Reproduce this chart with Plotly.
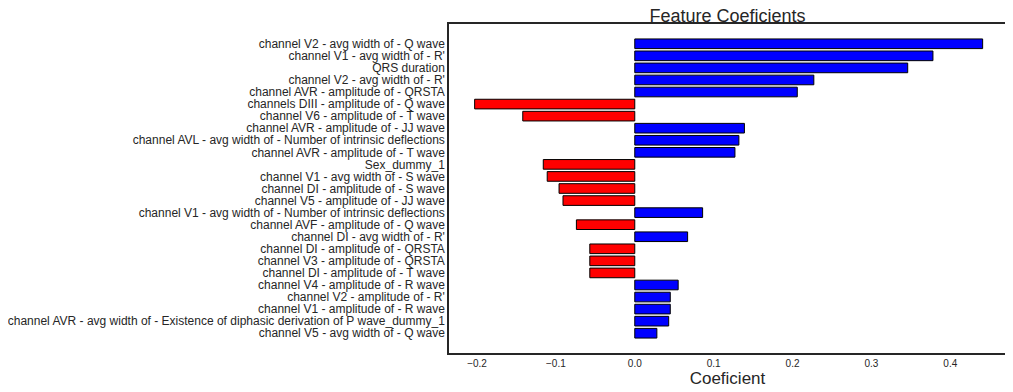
import plotly.graph_objects as go

features = [
    "channel V2 - avg width of - Q wave",
    "channel V1 - avg width of - R'",
    "QRS duration",
    "channel V2 - avg width of - R'",
    "channel AVR - amplitude of - QRSTA",
    "channels DIII - amplitude of - Q wave",
    "channel V6 - amplitude of - T wave",
    "channel AVR - amplitude of - JJ wave",
    "channel AVL - avg width of - Number of intrinsic deflections",
    "channel AVR - amplitude of - T wave",
    "Sex_dummy_1",
    "channel V1 - avg width of - S wave",
    "channel DI - amplitude of - S wave",
    "channel V5 - amplitude of - JJ wave",
    "channel V1 - avg width of - Number of intrinsic deflections",
    "channel AVF - amplitude of - Q wave",
    "channel DI - avg width of - R'",
    "channel DI - amplitude of - QRSTA",
    "channel V3 - amplitude of - QRSTA",
    "channel DI - amplitude of - T wave",
    "channel V4 - amplitude of - R wave",
    "channel V2 - amplitude of - R'",
    "channel V1 - amplitude of - R wave",
    "channel AVR - avg width of - Existence of diphasic derivation of P wave_dummy_1",
    "channel V5 - avg width of - Q wave",
]
coefs = [
    0.441, 0.378, 0.346, 0.227, 0.206, -0.203, -0.142, 0.139, 0.132, 0.127,
    -0.116, -0.111, -0.096, -0.091, 0.086, -0.074, 0.067, -0.057, -0.057, -0.057,
    0.055, 0.045, 0.045, 0.043, 0.028,
]
xticks = [-0.2, -0.1, 0.0, 0.1, 0.2, 0.3, 0.4]
xtick_text = ["\u22120.2", "\u22120.1", "0.0", "0.1", "0.2", "0.3", "0.4"]

colors = ["blue" if c > 0 else "red" for c in coefs]
pos = list(range(len(features)))

fig = go.Figure(go.Bar(
    x=coefs, y=pos, orientation="h", width=0.8,
    marker=dict(color=colors, line=dict(color="black", width=1)),
))

n = len(features)
# page body has an 8px margin, so the figure is shifted by 8px in the window
W, H = 1005, 384
fig.update_layout(
    width=W, height=H,
    margin=dict(l=441, r=7, t=16, b=39, autoexpand=False),
    plot_bgcolor="white", paper_bgcolor="white",
    font=dict(family="Liberation Sans, Arial, sans-serif", color="#262626"),
    showlegend=False,
    title=dict(text="Feature Coeficients", x=0.5, xref="paper", xanchor="center",
               y=1 - 7.5 / H, yref="container", yanchor="middle",
               font=dict(size=18, color="#262626")),
)
fig.update_xaxes(
    range=[-0.2355, 0.4706], tickvals=xticks, ticktext=xtick_text,
    showgrid=False, zeroline=False, showline=True, mirror=True,
    linecolor="#262626", linewidth=1.5, ticks="",
    tickfont=dict(size=10), title=dict(text="Coeficient", font=dict(size=17), standoff=2),
    automargin=False,
)
fig.update_yaxes(
    range=[n - 1 + 1.64, -1.64], tickvals=pos, ticktext=features,
    showgrid=False, zeroline=False, showline=True, mirror=True,
    linecolor="#262626", linewidth=1.5, ticks="",
    tickfont=dict(size=12), automargin=False,
)
fig.write_html("out.html")
